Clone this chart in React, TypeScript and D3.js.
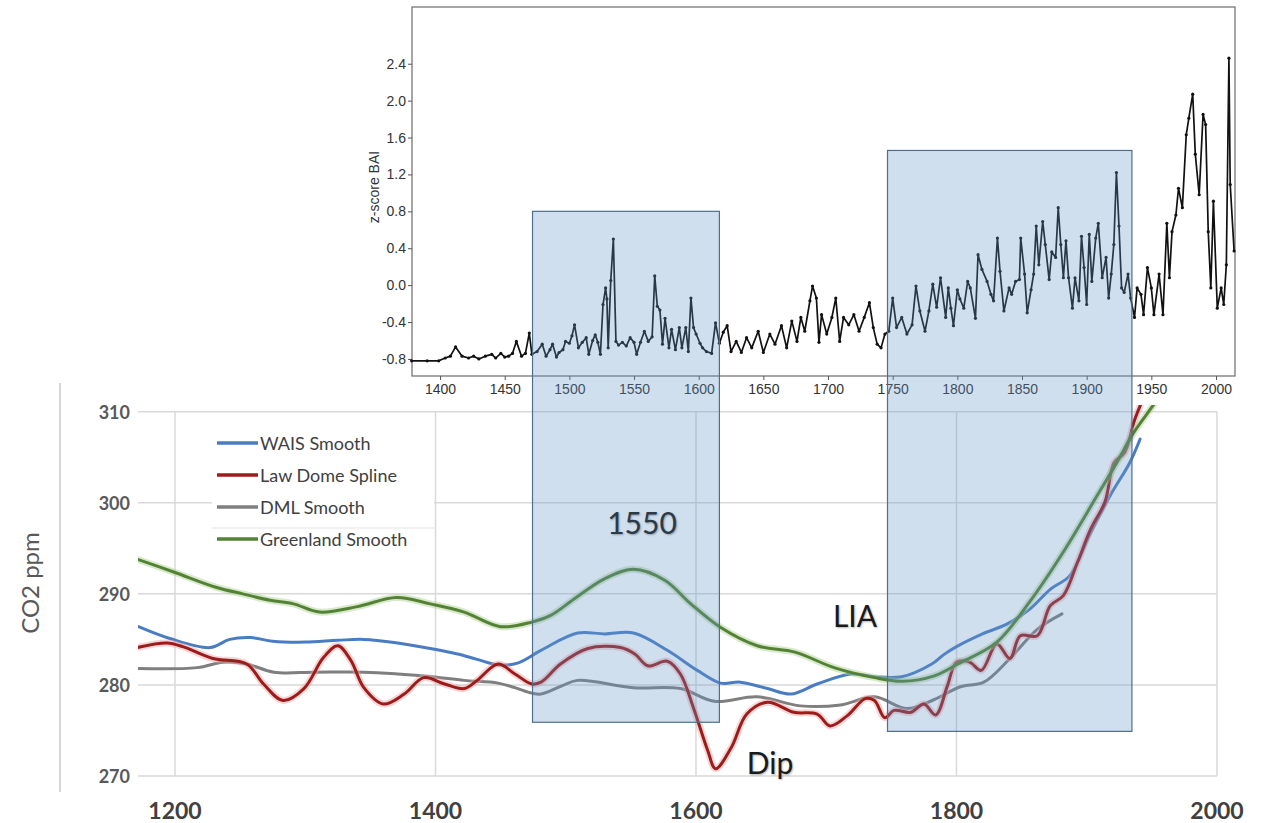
import React, { useEffect, useRef } from 'react';
import * as d3 from 'd3';

// tree-ring BAI z-scores (top panel)
const baiYears = [
  1378, 1390, 1399, 1404, 1408, 1412, 1417, 1422, 1426, 1430, 1435, 1440, 1443, 1447, 1450, 1453, 1456, 1459,
  1463, 1466, 1469, 1471, 1475, 1479, 1482, 1485, 1487, 1490, 1492, 1495, 1497, 1500, 1502, 1504, 1507, 1510,
  1513, 1515, 1518, 1520, 1522, 1524, 1526, 1528, 1529, 1530, 1532, 1534, 1536, 1538, 1541, 1544, 1547, 1550,
  1552, 1555, 1558, 1561, 1564, 1566, 1568, 1570, 1572, 1574, 1577, 1579, 1582, 1585, 1587, 1590, 1592, 1594,
  1596, 1598, 1601, 1603, 1606, 1610, 1613, 1616, 1619, 1622, 1625, 1629, 1633, 1637, 1641, 1646, 1650, 1655,
  1659, 1664, 1668, 1672, 1676, 1679, 1682, 1686, 1688, 1691, 1693, 1695, 1699, 1703, 1706, 1709, 1712, 1716,
  1720, 1724, 1728, 1732, 1735, 1738, 1741, 1744, 1747, 1750, 1753, 1757, 1761, 1765, 1768, 1771, 1775, 1778,
  1781, 1784, 1787, 1791, 1793, 1795, 1797, 1800, 1802, 1805, 1808, 1810, 1814, 1816, 1819, 1823, 1826, 1828,
  1831, 1833, 1836, 1840, 1842, 1845, 1848, 1849, 1852, 1854, 1857, 1859, 1861, 1863, 1866, 1868, 1871, 1873,
  1876, 1878, 1880, 1882, 1884, 1886, 1889, 1891, 1894, 1896, 1898, 1900, 1902, 1904, 1907, 1909, 1912, 1915,
  1917, 1919, 1921, 1923, 1925, 1927, 1929, 1932, 1934, 1937, 1939, 1942, 1944, 1947, 1950, 1952, 1956, 1959,
  1962, 1964, 1966, 1969, 1971, 1974, 1977, 1979, 1982, 1984, 1987, 1990, 1992, 1994, 1996, 1998, 2001, 2004,
  2006, 2008, 2010, 2011, 2014
];
const baiValues = [
  -0.82, -0.82, -0.82, -0.79, -0.77, -0.67, -0.77, -0.79, -0.77, -0.80, -0.77, -0.75, -0.79, -0.74, -0.78, -0.77, -0.74, -0.61,
  -0.77, -0.74, -0.52, -0.75, -0.72, -0.64, -0.77, -0.70, -0.64, -0.78, -0.73, -0.70, -0.61, -0.63, -0.55, -0.43, -0.68, -0.62,
  -0.57, -0.75, -0.60, -0.54, -0.62, -0.75, -0.21, -0.03, -0.15, -0.68, 0.05, 0.50, -0.61, -0.65, -0.62, -0.66, -0.57, -0.62,
  -0.75, -0.62, -0.50, -0.61, -0.56, 0.10, -0.23, -0.27, -0.64, -0.36, -0.68, -0.48, -0.70, -0.46, -0.68, -0.46, -0.72, -0.14,
  -0.46, -0.53, -0.63, -0.68, -0.72, -0.74, -0.41, -0.63, -0.51, -0.44, -0.72, -0.61, -0.73, -0.57, -0.68, -0.50, -0.73, -0.53,
  -0.64, -0.44, -0.68, -0.39, -0.61, -0.35, -0.50, -0.17, -0.01, -0.14, -0.62, -0.32, -0.53, -0.35, -0.14, -0.61, -0.35, -0.43,
  -0.32, -0.50, -0.35, -0.19, -0.46, -0.64, -0.68, -0.53, -0.50, -0.14, -0.46, -0.35, -0.53, -0.43, -0.01, -0.28, -0.50, -0.28,
  0.01, -0.24, 0.08, -0.35, -0.03, -0.25, -0.44, -0.05, -0.15, -0.25, 0.04, -0.03, -0.36, 0.33, 0.17, 0.04, -0.10, -0.17,
  0.51, 0.15, -0.28, -0.03, -0.10, 0.04, 0.06, 0.51, 0.12, -0.30, -0.05, 0.12, 0.64, 0.22, 0.69, 0.44, 0.06, 0.36,
  0.30, 0.84, 0.44, 0.08, 0.48, 0.08, -0.25, 0.08, -0.17, 0.53, 0.19, -0.21, 0.55, 0.04, 0.51, 0.67, 0.08, 0.30,
  -0.14, 0.12, 0.44, 1.22, 0.64, -0.03, -0.08, 0.12, -0.14, -0.35, -0.03, -0.10, -0.32, 0.19, -0.03, -0.32, 0.12, -0.32,
  0.67, 0.08, 0.58, 0.76, 1.05, 0.84, 1.63, 1.81, 2.07, 1.42, 0.98, 1.85, 1.74, 0.58, -0.03, 0.91, -0.25, -0.03,
  -0.21, 0.22, 2.46, 1.09, 0.37
];

// CO2 records (bottom panel)
const waisYears = [1172, 1196, 1227, 1242, 1258, 1275, 1300, 1325, 1345, 1371, 1396, 1417, 1432, 1448, 1463, 1481, 1509, 1530, 1552, 1578, 1601, 1619, 1634, 1655, 1673, 1693, 1719, 1737, 1758, 1781, 1790, 1800, 1820, 1839, 1856, 1872, 1887, 1902, 1918, 1933, 1941];
const waisCO2 = [286.4, 285.1, 284.1, 285.0, 285.2, 284.8, 284.7, 284.9, 285.0, 284.6, 284.0, 283.4, 282.8, 282.2, 282.4, 283.8, 285.7, 285.6, 285.7, 283.8, 281.6, 280.2, 280.3, 279.6, 279.0, 280.1, 281.2, 280.9, 280.9, 282.3, 283.3, 284.2, 285.6, 286.7, 288.3, 290.5, 292.0, 296.4, 300.8, 304.4, 307.0];

const lawYears = [1171, 1194, 1206, 1229, 1255, 1268, 1283, 1299, 1314, 1325, 1335, 1345, 1360, 1376, 1391, 1407, 1422, 1432, 1448, 1461, 1474, 1481, 1496, 1517, 1542, 1553, 1563, 1578, 1588, 1598, 1609, 1615, 1627, 1639, 1655, 1675, 1693, 1703, 1716, 1730, 1737, 1745, 1752, 1765, 1775, 1784, 1793, 1800, 1810, 1819, 1831, 1841, 1849, 1862, 1872, 1882, 1893, 1903, 1914, 1921, 1929, 1937, 1945];
const lawCO2 = [284.1, 284.6, 284.2, 282.9, 282.3, 280.1, 278.3, 279.6, 283.0, 284.3, 282.7, 279.7, 277.9, 279.0, 280.8, 280.1, 279.6, 280.5, 282.3, 281.2, 280.1, 280.3, 282.3, 284.0, 284.1, 283.4, 282.1, 282.6, 281.2, 277.5, 272.8, 270.8, 273.1, 276.8, 278.1, 277.0, 276.8, 275.5, 276.6, 278.5, 278.3, 276.4, 277.2, 277.0, 277.9, 276.7, 279.9, 282.5, 282.5, 281.6, 284.5, 282.9, 285.4, 285.4, 288.7, 289.8, 293.5, 297.1, 300.1, 304.4, 305.5, 309.2, 312.0];

const dmlYears = [1171, 1217, 1237, 1255, 1276, 1307, 1345, 1371, 1397, 1422, 1448, 1461, 1474, 1481, 1497, 1509, 1552, 1588, 1614, 1647, 1680, 1711, 1737, 1762, 1783, 1803, 1821, 1841, 1862, 1881];
const dmlCO2 = [281.8, 281.9, 282.5, 282.3, 281.4, 281.4, 281.4, 281.2, 280.9, 280.5, 280.2, 279.7, 279.1, 279.0, 279.9, 280.5, 279.7, 279.6, 278.2, 278.7, 277.7, 277.8, 278.7, 277.4, 278.4, 279.8, 280.3, 282.9, 286.1, 287.8];

const greenYears = [1171, 1199, 1232, 1252, 1273, 1291, 1311, 1340, 1370, 1396, 1422, 1450, 1474, 1488, 1508, 1529, 1552, 1576, 1596, 1619, 1647, 1676, 1706, 1737, 1758, 1783, 1801, 1831, 1856, 1882, 1908, 1923, 1936, 1949, 1955];
const greenCO2 = [293.8, 292.4, 290.7, 290.0, 289.3, 288.9, 288.0, 288.6, 289.6, 288.9, 288.0, 286.4, 286.9, 287.6, 289.6, 291.6, 292.7, 291.5, 288.9, 286.3, 284.3, 283.6, 281.9, 280.8, 280.4, 281.0, 282.3, 284.7, 289.1, 294.6, 300.8, 304.4, 307.7, 310.3, 311.5];

const topTicksX = [1400, 1450, 1500, 1550, 1600, 1650, 1700, 1750, 1800, 1850, 1900, 1950, 2000];
const topTicksY = [-0.8, -0.4, 0.0, 0.4, 0.8, 1.2, 1.6, 2.0, 2.4];
const co2Ticks = [270, 280, 290, 300, 310];
const yearTicks = [1200, 1400, 1600, 1800, 2000];

const seriesNames = ['WAIS Smooth', 'Law Dome Spline', 'DML Smooth', 'Greenland Smooth'];
const seriesColors = ['#4a7cc4', '#9e1b1b', '#7f7f7f', '#548235'];

function App() {
  const svgRef = useRef(null);

  useEffect(() => {
    const svg = d3.select(svgRef.current);
    svg.selectAll('*').remove();

    // ---------- bottom chart ----------
    const bx = d3.scaleLinear().domain([1171.6, 2000]).range([138, 1217]);
    const by = d3.scaleLinear().domain([270, 310]).range([776, 411.7]);

    svg.append('line')
      .attr('x1', 60).attr('x2', 60).attr('y1', 383).attr('y2', 792)
      .attr('stroke', '#c8c8c8').attr('stroke-width', 1.5);

    const grid = svg.append('g');
    grid.selectAll('.hg').data(co2Ticks).join('line')
      .attr('x1', bx(1171.6)).attr('x2', bx(2000))
      .attr('y1', d => by(d)).attr('y2', d => by(d))
      .attr('stroke', '#d9d9d9').attr('stroke-width', 1.5);
    grid.selectAll('.vg').data(yearTicks).join('line')
      .attr('x1', d => bx(d)).attr('x2', d => bx(d))
      .attr('y1', by(310)).attr('y2', by(270))
      .attr('stroke', '#d9d9d9').attr('stroke-width', 1.5);

    svg.append('g').selectAll('text').data(co2Ticks).join('text')
      .attr('x', 130).attr('y', d => by(d))
      .attr('text-anchor', 'end').attr('dominant-baseline', 'central')
      .attr('font-family', 'Lato, sans-serif').attr('font-weight', 'bold')
      .attr('font-size', 18).attr('fill', '#595959')
      .text(d => d);

    svg.append('g').selectAll('text').data(yearTicks).join('text')
      .attr('x', d => bx(d)).attr('y', 810)
      .attr('text-anchor', 'middle').attr('dominant-baseline', 'central')
      .attr('font-family', 'Lato, sans-serif').attr('font-weight', 'bold')
      .attr('font-size', 23).attr('fill', '#404040')
      .text(d => d);

    svg.append('text')
      .attr('transform', 'translate(29,583) rotate(-90)')
      .attr('text-anchor', 'middle').attr('dominant-baseline', 'central')
      .attr('font-family', 'Lato, sans-serif').attr('font-size', 24).attr('fill', '#595959')
      .text('CO2 ppm');

    // legend
    svg.append('rect').attr('x', 212).attr('y', 424).attr('width', 222).attr('height', 130).attr('fill', '#fff');
    svg.append('line').attr('x1', 212).attr('x2', 436).attr('y1', 528).attr('y2', 528)
      .attr('stroke', '#e3e3e3').attr('stroke-width', 1.2);
    const leg = svg.append('g');
    seriesNames.forEach((name, i) => {
      const yy = 443 + i * 32;
      leg.append('line').attr('x1', 217).attr('x2', 258).attr('y1', yy).attr('y2', yy)
        .attr('stroke', seriesColors[i]).attr('stroke-width', 3.5);
      leg.append('text').attr('x', 260).attr('y', yy)
        .attr('dominant-baseline', 'central')
        .attr('font-family', 'Lato, sans-serif').attr('font-size', 18).attr('fill', '#404040')
        .text(name);
    });

    svg.append('clipPath').attr('id', 'co2clip')
      .append('rect').attr('x', 138).attr('y', 405).attr('width', 1079).attr('height', 385);

    const lines = svg.append('g').attr('clip-path', 'url(#co2clip)');
    const drawSeries = (years, vals, color, width, glow) => {
      const gen = d3.line()
        .x((d, i) => bx(years[i]))
        .y(d => by(d))
        .curve(d3.curveCatmullRom.alpha(0.5));
      if (glow) {
        lines.append('path').attr('d', gen(vals)).attr('fill', 'none')
          .attr('stroke', glow).attr('stroke-width', width + 4).attr('stroke-opacity', 0.45)
          .attr('stroke-linejoin', 'round');
      }
      lines.append('path').attr('d', gen(vals)).attr('fill', 'none')
        .attr('stroke', color).attr('stroke-width', width)
        .attr('stroke-linejoin', 'round').attr('stroke-linecap', 'round');
    };
    drawSeries(dmlYears, dmlCO2, seriesColors[2], 3, null);
    drawSeries(waisYears, waisCO2, seriesColors[0], 3, null);
    drawSeries(lawYears, lawCO2, seriesColors[1], 3, '#e9a3a3');
    drawSeries(greenYears, greenCO2, seriesColors[3], 3, '#a8cf8e');

    // ---------- top chart ----------
    const tx = d3.scaleLinear().domain([1378.3, 2014.7]).range([412, 1235]);
    const ty = d3.scaleLinear().domain([-0.985, 3.015]).range([376, 7]);

    svg.append('rect').attr('x', 412).attr('y', 7).attr('width', 823).attr('height', 369)
      .attr('fill', '#fff').attr('stroke', '#6b6b6b').attr('stroke-width', 1.2);

    const yAxis = svg.append('g').attr('transform', 'translate(412,0)')
      .call(d3.axisLeft(ty).tickValues(topTicksY).tickSize(4).tickPadding(2).tickFormat(d => d.toFixed(1)));
    const xAxis = svg.append('g').attr('transform', 'translate(0,376)')
      .call(d3.axisBottom(tx).tickValues(topTicksX).tickSize(4).tickPadding(4).tickFormat(d => String(d)));
    [yAxis, xAxis].forEach(ax => {
      ax.select('.domain').remove();
      ax.selectAll('line').attr('stroke', '#555');
      ax.selectAll('text').attr('font-family', 'Liberation Sans, Arial, sans-serif')
        .attr('font-size', 14).attr('fill', '#333');
    });

    svg.append('text')
      .attr('transform', 'translate(374,187) rotate(-90)')
      .attr('text-anchor', 'middle').attr('dominant-baseline', 'central')
      .attr('font-family', 'Liberation Sans, Arial, sans-serif').attr('font-size', 14).attr('fill', '#333')
      .text('z-score BAI');

    const baiLine = d3.line()
      .x((d, i) => tx(baiYears[i]))
      .y(d => ty(d));
    svg.append('path').attr('d', baiLine(baiValues)).attr('fill', 'none')
      .attr('stroke', '#111').attr('stroke-width', 1.7).attr('stroke-linejoin', 'round');
    svg.append('g').selectAll('circle').data(baiValues).join('circle')
      .attr('cx', (d, i) => tx(baiYears[i])).attr('cy', d => ty(d))
      .attr('r', 1.6).attr('fill', '#111');

    // ---------- highlight boxes ----------
    const boxes = [
      { x0: 1471.5, x1: 1616, top: 0.8, bottom: 275.9 },
      { x0: 1746, x1: 1935, top: 1.46, bottom: 274.9 },
    ];
    svg.append('g').selectAll('rect').data(boxes).join('rect')
      .attr('x', d => tx(d.x0)).attr('width', d => tx(d.x1) - tx(d.x0))
      .attr('y', d => ty(d.top)).attr('height', d => by(d.bottom) - ty(d.top))
      .attr('fill', 'rgb(100,150,200)').attr('fill-opacity', 0.3)
      .attr('stroke', '#4f6f8c').attr('stroke-width', 1.2);

    // ---------- annotations ----------
    const notes = [
      { t: '1550', x: 642, y: 522, c: '#2b3a48' },
      { t: 'LIA', x: 855, y: 615, c: '#1a1a1a' },
      { t: 'Dip', x: 770, y: 762, c: '#1a1a1a' },
    ];
    svg.append('g').selectAll('text').data(notes).join('text')
      .attr('x', d => d.x).attr('y', d => d.y)
      .attr('text-anchor', 'middle').attr('dominant-baseline', 'central')
      .attr('font-family', 'Lato, sans-serif').attr('font-size', 30).attr('fill', d => d.c)
      .style('text-shadow', '1px 1px 2px rgba(0,0,0,0.3)')
      .text(d => d.t);
  }, []);

  return (
    <svg ref={svgRef} width={1265} height={823}
      style={{ position: 'absolute', left: 0, top: 0, background: '#fff' }} />
  );
}

export default App;
